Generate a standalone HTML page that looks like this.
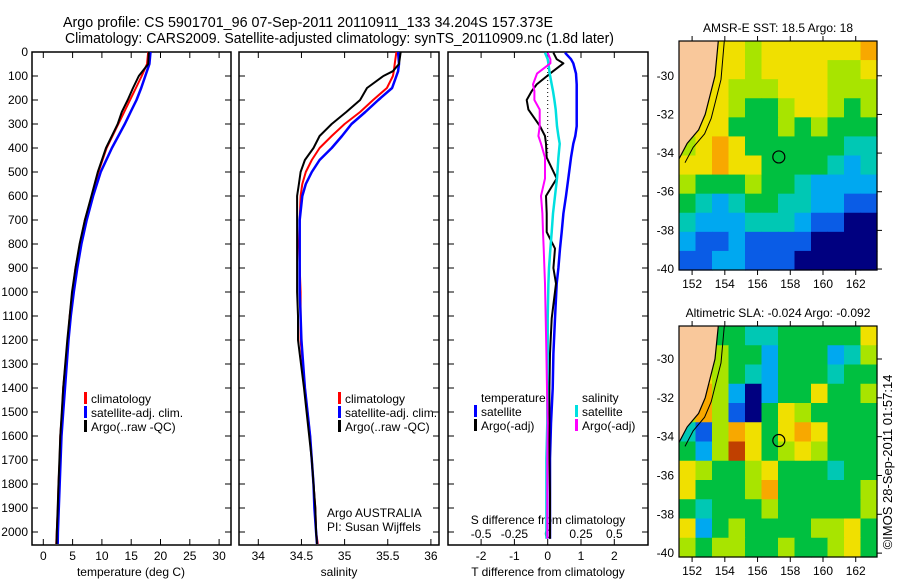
<!DOCTYPE html>
<html><head><meta charset="utf-8">
<style>
html,body{margin:0;padding:0;background:#fff;}
svg{display:block;font-family:"Liberation Sans",sans-serif;}
text{fill:#000;}
</style></head>
<body>
<svg id="chart" width="900" height="580" viewBox="0 0 900 580">
<text x="63" y="27" font-size="15" textLength="490" lengthAdjust="spacingAndGlyphs">Argo profile: CS 5901701_96 07-Sep-2011 20110911_133 34.204S 157.373E</text>
<text x="65" y="43" font-size="15" textLength="549" lengthAdjust="spacingAndGlyphs">Climatology: CARS2009. Satellite-adjusted climatology: synTS_20110909.nc (1.8d later)</text>
<g id="panels"></g>
<text transform="translate(892,462) rotate(-90)" font-size="13" text-anchor="middle">©IMOS 28-Sep-2011 01:57:14</text>
</svg>
<script>
// ---------- data ----------
const tDepth = [0,50,100,150,200,250,300,400,500,600,700,800,900,1000,1100,1200,1400,1500,1600,1700,1800,1900,2000,2050];
const tClim  = [17.9,17.7,16.8,15.8,14.8,13.8,12.8,10.8,9.4,8.3,7.1,6.3,5.5,5.0,4.5,4.2,3.4,3.2,2.9,2.8,2.6,2.5,2.3,2.2];
const tSat   = [18.3,18.1,17.4,16.7,15.9,14.9,13.9,11.7,9.8,8.5,7.4,6.5,5.8,5.2,4.7,4.3,3.7,3.4,3.1,2.95,2.8,2.65,2.5,2.45];
const tArgo  = [18.0,17.9,16.3,15.3,14.4,13.4,12.7,10.7,9.3,8.2,7.1,6.2,5.5,4.9,4.5,4.1,3.4,3.15,2.9,2.75,2.6,2.45,2.3,2.25];
const sDepth = [0,50,80,100,150,200,250,300,350,400,450,500,550,600,700,800,900,1000,1100,1200,1400,1500,1600,1700,1800,1900,2000,2050];
const sClim  = [35.60,35.58,35.57,35.56,35.49,35.33,35.18,35.00,34.85,34.71,34.62,34.55,34.51,34.49,34.48,34.47,34.48,34.49,34.49,34.49,34.54,34.57,34.60,34.62,34.64,34.66,34.67,34.69];
const sSat   = [35.62,35.63,35.62,35.60,35.55,35.39,35.24,35.08,34.97,34.85,34.71,34.62,34.55,34.51,34.48,34.48,34.48,34.48,34.49,34.50,34.54,34.57,34.60,34.62,34.64,34.65,34.67,34.68];
const sArgo  = [35.65,35.63,35.56,35.45,35.26,35.18,35.02,34.85,34.71,34.64,34.54,34.49,34.47,34.45,34.45,34.45,34.45,34.45,34.46,34.46,34.53,34.56,34.59,34.62,34.64,34.66,34.67,34.68];
const dDepth  = [3,30,47,90,135,163,200,240,309,350,382,440,527,600,673,750,819,900,965,1110,1256,1402,1547,1693,1839,2028];
const dTSat   = [0.52,0.70,0.77,0.85,0.87,0.87,0.87,0.87,0.87,0.83,0.77,0.70,0.62,0.55,0.47,0.42,0.37,0.32,0.27,0.22,0.17,0.15,0.10,0.07,0.07,0.07];
const dTArgo  = [0.17,0.27,0.47,0.07,-0.33,-0.48,-0.63,-0.58,-0.23,-0.08,-0.05,-0.03,0.27,-0.05,-0.03,-0.03,0.22,0.17,0.25,0.12,0.07,0.05,0.05,0.05,0.07,0.07];
const dSSat   = [-0.02,0.0,0.005,0.015,0.03,0.04,0.05,0.06,0.07,0.08,0.09,0.08,0.07,0.055,0.04,0.03,0.02,0.01,0.005,0.0,0.0,-0.003,-0.003,-0.01,-0.01,-0.01];
const dSArgo  = [0.0,0.02,0.02,-0.08,-0.11,-0.10,-0.10,-0.06,-0.06,-0.07,-0.05,-0.02,-0.02,-0.05,-0.04,-0.035,-0.03,-0.025,-0.02,-0.015,-0.01,-0.005,0.0,-0.003,-0.003,-0.003];
const depthTicks = [0,100,200,300,400,500,600,700,800,900,1000,1100,1200,1300,1400,1500,1600,1700,1800,1900,2000];
const tTicks = [0,5,10,15,20,25,30];
const sTicks = [34,34.5,35,35.5,36];
const sTickLabels = ["34","34.5","35","35.5","36"];
const dTTicks = [-2,-1,0,1,2];
const dSTicks = [-0.5,-0.25,0,0.25,0.5];
const dSTickLabels = ["-0.5","-0.25","0","0.25","0.5"];
const lonTicks = [152,154,156,158,160,162];
const latTicks = [-30,-32,-34,-36,-38,-40];
const sstGrid = [
[8,7,6,6,5,6,6,6,6,6,6,7],
[7,7,6,6,5,6,6,6,6,5,5,6],
[7,6,6,5,5,5,6,6,6,5,5,5],
[6,6,6,5,4,4,5,6,6,5,4,5],
[6,6,6,4,4,4,5,4,5,4,4,4],
[5,6,7,6,4,4,4,4,4,4,3,3],
[6,6,7,6,6,4,4,4,4,3,2,3],
[5,4,4,4,5,4,4,3,2,2,2,2],
[4,3,2,3,4,4,3,3,2,2,1,1],
[3,2,2,2,3,3,3,2,1,1,0,0],
[2,1,1,2,1,1,1,1,0,0,0,0],
[1,1,2,2,1,1,1,0,0,0,0,0]];
const slaGrid = [
[4,5,4,4,3,3,4,4,4,4,4,6],
[4,4,5,4,4,2,4,4,4,2,3,5],
[4,6,5,4,3,2,4,4,4,3,4,4],
[5,7,5,2,0,2,4,4,6,4,4,5],
[5,7,5,1,0,4,6,5,4,4,4,4],
[3,1,5,7,6,4,6,7,6,4,4,4],
[4,2,5,8,6,4,5,6,5,4,4,4],
[6,5,4,4,5,6,4,4,4,3,4,4],
[6,4,4,4,5,7,4,4,4,4,4,5],
[4,3,4,4,4,5,4,4,4,4,4,5],
[6,2,4,5,4,4,4,4,5,5,6,4],
[5,4,5,5,4,4,5,4,4,5,6,4]];
const coastLon = [153.6,153.4,153.1,152.8,152.4,151.7,151.2];
const coastLat = [-27.6,-30,-31,-32,-32.8,-33.5,-34.3];
const floatLon = 157.3;
const floatLat = -34.2;

// ---------- helpers ----------
const NS="http://www.w3.org/2000/svg";
const root=document.getElementById('panels');
function mk(tag,attrs,parent){const e=document.createElementNS(NS,tag);for(const k in attrs)e.setAttribute(k,attrs[k]);(parent||root).appendChild(e);return e;}
function txt(x,y,s,size,anchor,parent){const e=mk('text',{x:x,y:y,'font-size':size,'text-anchor':anchor||'start'},parent);e.textContent=s;return e;}
const Y0=52, Y1=545, yD=d=>Y0+d*0.24;
const colors=['#000080','#0a5ce6','#00a8f0','#00c8b4','#00c040','#a8e400','#f0e000','#f8a800','#c04000'];

function frame(x0,x1,name){
  const r=mk('rect',{x:x0,y:Y0,width:x1-x0,height:Y1-Y0,fill:'none',stroke:'#000','stroke-width':1.5});
  
  
  depthTicks.forEach(d=>{const y=yD(d);
    mk('line',{x1:x0,y1:y,x2:x0+6,y2:y,stroke:'#000'});
    mk('line',{x1:x1,y1:y,x2:x1-6,y2:y,stroke:'#000'});});
}
function xticks(xs,f){xs.forEach(v=>{const x=f(v);
  mk('line',{x1:x,y1:Y0,x2:x,y2:Y0+6,stroke:'#000'});
  mk('line',{x1:x,y1:Y1,x2:x,y2:Y1-6,stroke:'#000'});});}
function line(vals,deps,fx,color,w,name){
  const pts=vals.map((v,i)=>fx(v).toFixed(1)+','+yD(deps[i]).toFixed(1)).join(' ');
  const p=mk('polyline',{points:pts,fill:'none',stroke:color,'stroke-width':w,'stroke-linejoin':'round'});
  
  
}
function legend(x,y,color,label,name){
  const g=mk('g',{});
  
  
  if(color) mk('rect',{x:x-7,y:y-11,width:3,height:12,fill:color},g);
  txt(x,y,label,12,'start',g);
}

// ---------- panel 1: temperature ----------
const fT=v=>43.3+v*5.86;
frame(32,231,'temperature-panel');
xticks(tTicks,fT);
tTicks.forEach(v=>txt(fT(v),560,String(v),12,'middle'));
depthTicks.forEach(d=>{const t=txt(28,yD(d)+4,String(d),12,'end');});
txt(131,576,'temperature (deg C)',12,'middle');
line(tClim,tDepth,fT,'#ff0000',2,'temp-climatology-line');
line(tSat,tDepth,fT,'#0000ff',2.5,'temp-satellite-line');
line(tArgo,tDepth,fT,'#000000',2,'temp-argo-line');
legend(91,403,'#ff0000','climatology','legend-climatology');
legend(91,417,'#0000ff','satellite-adj. clim.','legend-satellite-adj');
legend(91,431,'#000000','Argo(..raw -QC)','legend-argo');

// ---------- panel 2: salinity ----------
const fS=v=>258.3+(v-34)*86.3;
frame(239,439,'salinity-panel');
xticks(sTicks,fS);
sTicks.forEach((v,i)=>txt(fS(v),560,sTickLabels[i],12,'middle'));
txt(339,576,'salinity',12,'middle');
line(sClim,sDepth,fS,'#ff0000',2,'sal-climatology-line');
line(sSat,sDepth,fS,'#0000ff',2.5,'sal-satellite-line');
line(sArgo,sDepth,fS,'#000000',2,'sal-argo-line');
legend(345,403,'#ff0000','climatology','legend-climatology-2');
legend(345,417,'#0000ff','satellite-adj. clim.','legend-satellite-adj-2');
legend(345,431,'#000000','Argo(..raw -QC)','legend-argo-2');
txt(327,517,'Argo AUSTRALIA',12);
txt(327,531,'PI: Susan Wijffels',12);

// ---------- panel 3: differences ----------
const fD=v=>547.7+v*33.3;
const fDS=v=>547.7+v*133.2;
frame(448,648,'difference-panel');
dTTicks.forEach(v=>{const x=fD(v);mk('line',{x1:x,y1:Y1,x2:x,y2:Y1-6,stroke:'#000'});mk('line',{x1:x,y1:Y0,x2:x,y2:Y0+6,stroke:'#000'});txt(x,560,String(v),12,'middle');});
dSTicks.forEach((v,i)=>txt(fDS(v),538,dSTickLabels[i],12,'middle'));
txt(548,524,'S difference from climatology',12,'middle');
txt(548,576,'T difference from climatology',12,'middle');
mk('line',{x1:fD(0),y1:Y0,x2:fD(0),y2:yD(420),stroke:'#000','stroke-dasharray':'1,3'});
line(dTSat,dDepth,fD,'#0000ff',2.5,'tdiff-satellite-line');
line(dTArgo,dDepth,fD,'#000000',2,'tdiff-argo-line');
line(dSSat,dDepth,fDS,'#00e0e0',2.5,'sdiff-satellite-line');
line(dSArgo,dDepth,fDS,'#ff00ff',2,'sdiff-argo-line');
txt(481,402,'temperature',12);
legend(481,416,'#0000ff','satellite','legend-tdiff-satellite');
legend(481,430,'#000000','Argo(-adj)','legend-tdiff-argo');
txt(582,402,'salinity',12);
legend(582,416,'#00e0e0','satellite','legend-sdiff-satellite');
legend(582,430,'#ff00ff','Argo(-adj)','legend-sdiff-argo');

// ---------- maps ----------
function map(top,bot,latTop,latB,grid,title,name){
  const x0=679,x1=877,lonL=151.2,lonR=163.3;
  const fx=v=>x0+(v-lonL)/(lonR-lonL)*(x1-x0);
  const fy=v=>top+(latTop-v)/(latTop-latB)*(bot-top);
  const g=mk('g',{});
  
  
  const rows=grid.length, cols=grid[0].length;
  const cw=(x1-x0)/cols, ch=(bot-top)/rows;
  grid.forEach((row,r)=>row.forEach((v,c)=>{
    const cell=mk('rect',{x:x0+c*cw,y:top+r*ch,width:cw+0.6,height:ch+0.6,fill:colors[v]},g);
    
    
  }));
  let pts=coastLon.map((v,i)=>fx(v).toFixed(1)+','+Math.max(top,fy(coastLat[i])).toFixed(1)).join(' ');
  const land=mk('polygon',{points:x0+','+top+' '+pts+' '+x0+','+fy(coastLat[coastLat.length-1]),fill:'#f9c89b'},g);
  
  
  mk('polyline',{points:pts,fill:'none',stroke:'#000','stroke-width':1.2},g);
  mk('polyline',{points:coastLon.map((v,i)=>(fx(v)+6).toFixed(1)+','+Math.max(top,fy(coastLat[i]-0.2)).toFixed(1)).join(' '),fill:'none',stroke:'#000','stroke-width':1},g);
  const m=mk('circle',{cx:fx(floatLon),cy:fy(floatLat),r:6,fill:'none',stroke:'#000','stroke-width':1.2},g);
  
  
  mk('rect',{x:x0,y:top,width:x1-x0,height:bot-top,fill:'none',stroke:'#000','stroke-width':1.2},g);
  lonTicks.forEach(v=>{const x=fx(v);
    mk('line',{x1:x,y1:top,x2:x,y2:top-5,stroke:'#000'},g);
    mk('line',{x1:x,y1:bot,x2:x,y2:bot+5,stroke:'#000'},g);
    txt(x,bot+18,String(v),12,'middle',g);});
  latTicks.forEach(v=>{const y=fy(v);
    mk('line',{x1:x1,y1:y,x2:x1+5,y2:y,stroke:'#000'},g);
    txt(674,y+4,String(v),12,'end',g);});
  txt(778,top-9,title,12,'middle',g);
}
map(41,270,-28.2,-40.05,sstGrid,'AMSR-E SST: 18.5  Argo: 18','sst-map');
map(326,557,-28.3,-40.2,slaGrid,'Altimetric SLA: -0.024  Argo: -0.092','sla-map');
</script>
</body></html>
